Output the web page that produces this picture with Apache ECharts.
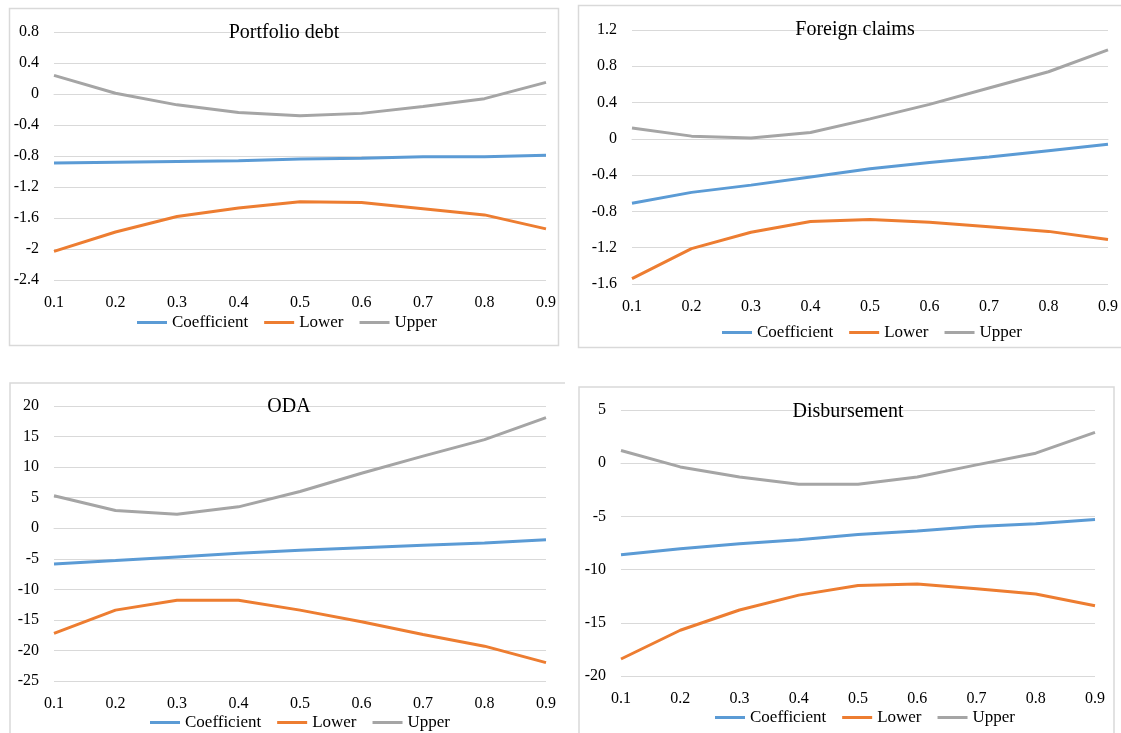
<!DOCTYPE html>
<html>
<head>
<meta charset="utf-8">
<script src="https://cdn.jsdelivr.net/npm/echarts@6/dist/echarts.min.js"></script>
<style>
html,body{margin:0;padding:0;background:#fff;}
#chart{width:1121px;height:733px;}
</style>
</head>
<body>
<div id="chart"></div>
<script>
const categories = ['0.1','0.2','0.3','0.4','0.5','0.6','0.7','0.8','0.9'];
const seriesNames = ['Coefficient','Lower','Upper'];
const panelTitles = ['Portfolio debt','Foreign claims','ODA','Disbursement'];

const portfolioCoef  = [-0.89,-0.88,-0.87,-0.86,-0.84,-0.83,-0.81,-0.81,-0.79];
const portfolioLower = [-2.03,-1.78,-1.58,-1.47,-1.39,-1.40,-1.48,-1.56,-1.74];
const portfolioUpper = [0.24,0.01,-0.14,-0.24,-0.28,-0.25,-0.16,-0.06,0.15];

const foreignCoef  = [-0.71,-0.59,-0.51,-0.42,-0.33,-0.26,-0.20,-0.13,-0.06];
const foreignLower = [-1.54,-1.21,-1.03,-0.91,-0.89,-0.92,-0.97,-1.02,-1.11];
const foreignUpper = [0.12,0.03,0.01,0.07,0.22,0.38,0.56,0.74,0.98];

const odaCoef  = [-5.85,-5.3,-4.7,-4.1,-3.6,-3.2,-2.8,-2.4,-1.9];
const odaLower = [-17.2,-13.4,-11.8,-11.8,-13.4,-15.3,-17.4,-19.3,-22.0];
const odaUpper = [5.3,2.9,2.3,3.5,6.0,9.0,11.8,14.5,18.1];

const disbCoef  = [-8.6,-8.03,-7.56,-7.19,-6.69,-6.37,-5.94,-5.69,-5.28];
const disbLower = [-18.4,-15.7,-13.8,-12.4,-11.5,-11.35,-11.8,-12.3,-13.4];
const disbUpper = [1.2,-0.35,-1.3,-1.97,-1.97,-1.3,-0.16,0.94,2.9];

const yMins = [-2.4,-1.6,-25,-20];
const yMaxs = [0.8,1.2,20,5];
const yIntervals = [0.4,0.4,5,5];

const panelData = [
  [portfolioCoef, portfolioLower, portfolioUpper],
  [foreignCoef, foreignLower, foreignUpper],
  [odaCoef, odaLower, odaUpper],
  [disbCoef, disbLower, disbUpper]
];

// layout (pixels)
const grids = [
  {left:54, top:32, width:492, height:248},
  {left:632, top:30, width:478, height:254},
  {left:54, top:406, width:492, height:275},
  {left:621, top:410, width:474, height:266}
];
const titlePos = [[284,23],[855,20],[289,397],[848,402]];
const legendPos = [[137,314],[722,324],[150,714],[715,709]];

const colors = ['#5B9BD5','#ED7D31','#A5A5A5'];
const font = '"Liberation Serif","Times New Roman",serif';

const option = {
  animation:false,
  backgroundColor:'#fff',
  color: colors,
  title: panelTitles.map((t,i)=>({
    text:t, left:titlePos[i][0], top:titlePos[i][1], textAlign:'center', padding:0,
    textStyle:{fontFamily:font, fontSize:20, fontWeight:'normal', color:'#000'}
  })),
  legend: legendPos.map(p=>({
    data:seriesNames, left:p[0], top:p[1], icon:'rect', itemWidth:30, itemHeight:3,
    itemGap:16, padding:0,
    textStyle:{fontFamily:font, fontSize:17, color:'#000'}
  })),
  grid: grids,
  xAxis: grids.map((g,i)=>({
    type:'category', gridIndex:i, data:categories, boundaryGap:false,
    axisLine:{show:true, lineStyle:{color:'#d9d9d9', width:1}},
    axisTick:{show:false},
    axisLabel:{fontFamily:font, fontSize:16, color:'#000', margin:15}
  })),
  yAxis: grids.map((g,i)=>({
    type:'value', gridIndex:i, min:yMins[i], max:yMaxs[i], interval:yIntervals[i],
    axisLine:{show:false}, axisTick:{show:false},
    splitLine:{lineStyle:{color:'#d9d9d9', width:1}},
    axisLabel:{fontFamily:font, fontSize:16, color:'#000', margin:15}
  })),
  series: [],
  graphic: [
    {type:'rect', shape:{x:9.5,y:8.5,width:549,height:337}, style:{fill:null, stroke:'#d9d9d9', lineWidth:1.5}, silent:true},
    {type:'rect', shape:{x:578.5,y:5.5,width:560,height:342}, style:{fill:null, stroke:'#d9d9d9', lineWidth:1.5}, silent:true},
    {type:'polyline', shape:{points:[[10,740],[10,383],[565,383]]}, style:{fill:null, stroke:'#d9d9d9', lineWidth:1.5}, silent:true},
    {type:'polyline', shape:{points:[[579,740],[579,387],[1114,387],[1114,740]]}, style:{fill:null, stroke:'#d9d9d9', lineWidth:1.5}, silent:true}
  ]
};

panelData.forEach((arrs,i)=>{
  arrs.forEach((d,k)=>{
    option.series.push({
      name:seriesNames[k], type:'line', xAxisIndex:i, yAxisIndex:i, data:d,
      symbol:'none', lineStyle:{width:3, color:colors[k]}, itemStyle:{color:colors[k]}
    });
  });
});

const chart = echarts.init(document.getElementById('chart'), null, {renderer:'canvas'});
chart.setOption(option);
</script>
</body>
</html>
